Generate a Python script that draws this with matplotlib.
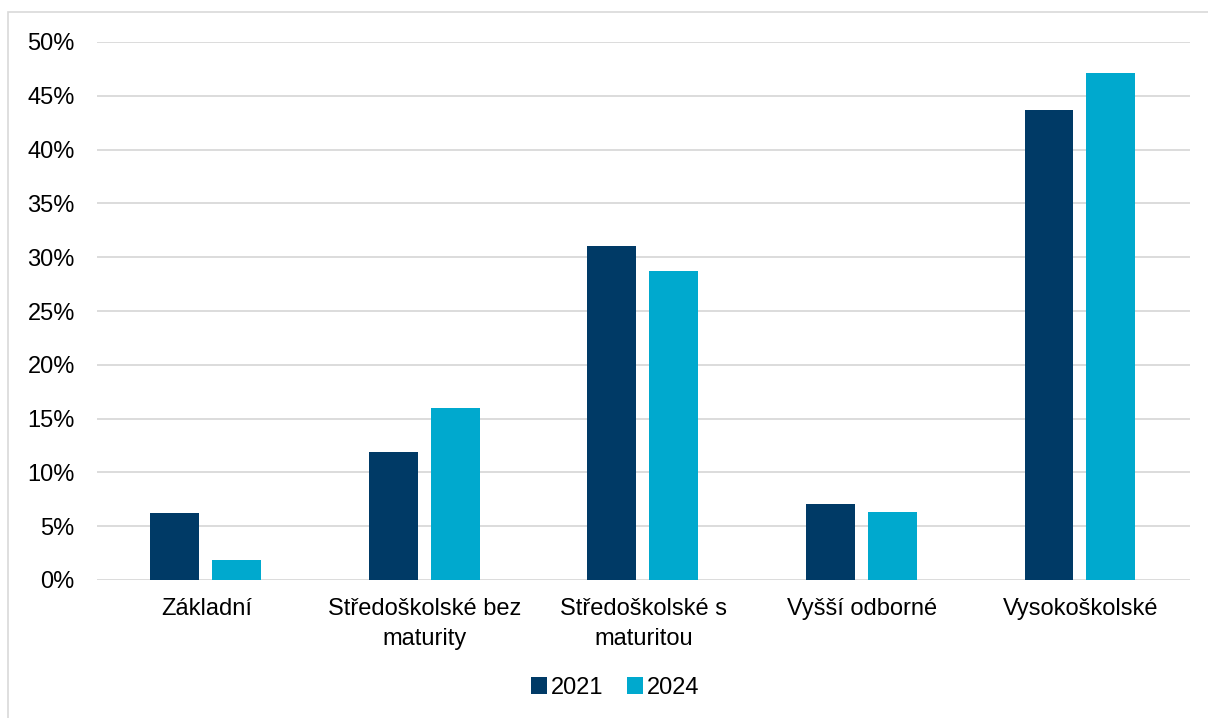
import numpy as np
import matplotlib.pyplot as plt
from matplotlib.patches import Rectangle

categories = ['Základní', 'Středoškolské bez\nmaturity', 'Středoškolské s\nmaturitou',
              'Vyšší odborné', 'Vysokoškolské']
v2021 = [6.2, 11.9, 31.0, 7.1, 43.7]
v2024 = [1.9, 16.0, 28.7, 6.3, 47.1]
yticks = [0, 5, 10, 15, 20, 25, 30, 35, 40, 45, 50]

plt.rcParams['font.family'] = ['Liberation Sans', 'DejaVu Sans']

fig = plt.figure(figsize=(12.08, 7.18), dpi=100)
ax = fig.add_axes([97/1208, 1-580/718, (1190-97)/1208, (580-42)/718])

# ramecek okolo grafu (oriznuty vpravo a dole)
fig.patches.append(Rectangle((8/1208, -0.1), 1.2, 1-12/718+0.1, transform=fig.transFigure,
                             fill=False, edgecolor='#d9d9d9', linewidth=1.2, zorder=0))

x = np.arange(len(categories))
w = 0.224
ax.bar(x - 0.145, v2021, w, color='#003a66', label='2021', zorder=3)
ax.bar(x + 0.138, v2024, w, color='#00a9ce', label='2024', zorder=3)

ax.set_xlim(-0.5, len(categories) - 0.5)
ax.set_ylim(0, 50)
ax.set_yticks(yticks)
ax.set_yticklabels([f'{t}%' for t in yticks])
ax.set_xticks(x)
ax.set_xticklabels(categories, linespacing=1.45)
ax.yaxis.grid(True, color='#d9d9d9', linewidth=1.3, zorder=0)
ax.set_axisbelow(True)
for s in ax.spines.values():
    s.set_visible(False)
ax.tick_params(axis='both', length=0, labelsize=17, colors='#000000')
ax.tick_params(axis='y', pad=16)
ax.tick_params(axis='x', pad=13)

ax.legend(loc='center', bbox_to_anchor=(615/1208, 1-688/718), bbox_transform=fig.transFigure,
          ncol=2, frameon=False, fontsize=17, handlelength=0.7, handleheight=0.7,
          handletextpad=0.15, columnspacing=1.0)

fig.savefig('out.png', dpi=100)
